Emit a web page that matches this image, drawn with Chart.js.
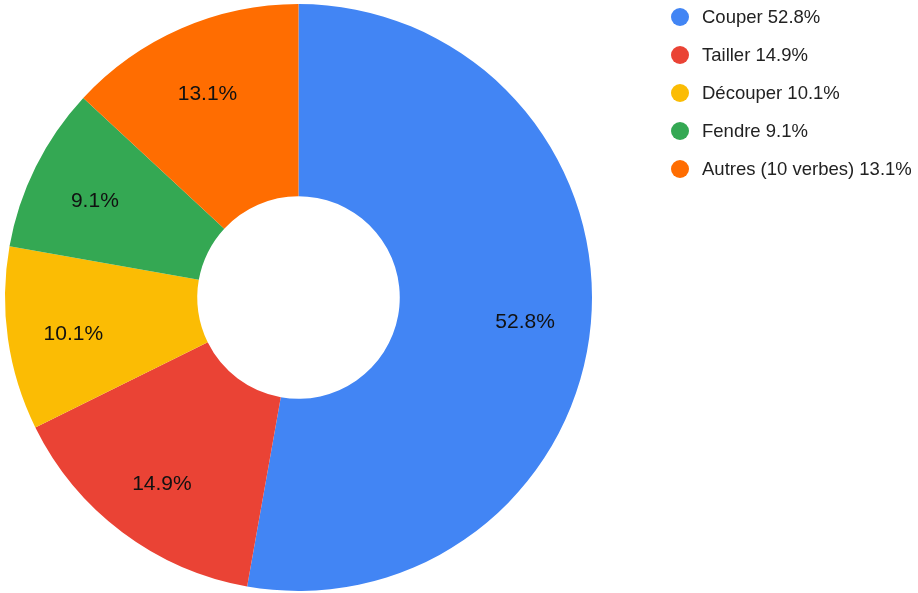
<!DOCTYPE html>
<html>
<head>
<meta charset="utf-8">
<script src="https://cdn.jsdelivr.net/npm/chart.js@4"></script>
<style>
  html, body { margin: 0; padding: 0; background: #fff; }
  #wrap { position: relative; width: 918px; height: 593px; }
  #legend { position: absolute; left: 671px; top: -2px; font-family: "Liberation Sans", Arial, sans-serif; font-size: 18.5px; color: #222; }
  .item { display: flex; align-items: center; height: 38px; }
  .dot { width: 18px; height: 18px; border-radius: 50%; margin-right: 13px; }
</style>
</head>
<body>
<div id="wrap">
  <canvas id="verbChart" width="918" height="593"></canvas>
  <div id="legend"></div>
</div>
<script>
const labels = ["Couper", "Tailler", "Découper", "Fendre", "Autres (10 verbes)"];
const shares = [52.8, 14.9, 10.1, 9.1, 13.1];
const colors = ["#4285F4", "#EA4335", "#FBBC04", "#34A853", "#FF6D01"];

// percent labels inside each slice
const sliceLabels = {
  id: "sliceLabels",
  afterDatasetsDraw(chart) {
    const ctx = chart.ctx;
    const meta = chart.getDatasetMeta(0);
    ctx.save();
    ctx.font = "21px 'Liberation Sans', Arial, sans-serif";
    ctx.fillStyle = "#111";
    ctx.textAlign = "center";
    ctx.textBaseline = "middle";
    meta.data.forEach((arc, i) => {
      const p = arc.getProps(["x", "y", "startAngle", "endAngle", "outerRadius"], true);
      const mid = (p.startAngle + p.endAngle) / 2;
      const r = p.outerRadius * 0.775;
      ctx.fillText(shares[i].toFixed(1) + "%", p.x + Math.cos(mid) * r, p.y + Math.sin(mid) * r + 5);
    });
    ctx.restore();
  }
};

new Chart(document.getElementById("verbChart"), {
  type: "doughnut",
  data: {
    labels: labels,
    datasets: [{
      data: shares,
      backgroundColor: colors,
      borderWidth: 0,
    }],
  },
  options: {
    responsive: false,
    animation: false,
    cutout: "34.5%",
    layout: { padding: { left: 4, top: 4, bottom: 2, right: 325 } },
    plugins: {
      legend: { display: false },
      tooltip: { enabled: false },
    }
  },
  plugins: [sliceLabels]
});

// legend
const legend = document.getElementById("legend");
labels.forEach((name, i) => {
  const row = document.createElement("div");
  row.className = "item";
  row.innerHTML = `<span class="dot" style="background:${colors[i]}"></span><span>${name} ${shares[i].toFixed(1)}%</span>`;
  legend.appendChild(row);
});
</script>
</body>
</html>
